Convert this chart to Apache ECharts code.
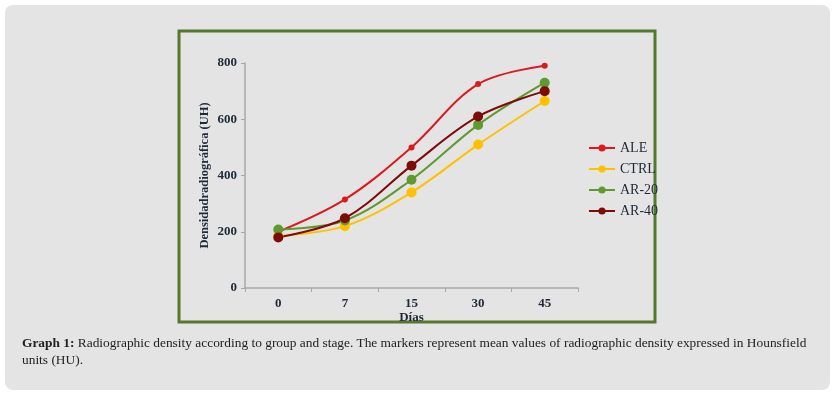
<!DOCTYPE html>
<html>
<head>
<meta charset="utf-8">
<script src="https://cdn.jsdelivr.net/npm/echarts@6/dist/echarts.min.js"></script>
<style>
   html, body { margin: 0 ; padding: 0 ; background: #ffffff ; }
   #card { position: absolute ; left: 5px ; top: 5px ; width: 825px ; height: 385px ; background: #e4e4e4 ; border-radius: 8px ; }
   #chart { position: absolute ; left: 0 ; top: 0 ; width: 835px ; height: 398px ; }
   #caption { position: absolute ; left: 22px ; top: 334px ; width: 800px ; font-family: "Liberation Serif", serif ; font-size: 13.4px ; line-height: 17px ; color: #222 ; }
</style>
</head>
<body>
<div id="card"></div>
<div id="chart"></div>
<div id="caption"><b>Graph 1:</b> Radiographic density according to group and stage. The markers represent mean values of radiographic density expressed in Hounsfield units (HU).</div>
<script>
(function(){
   //datos
   var dias = [ '0', '7', '15', '30', '45' ] ;
   var ale = [ 200, 315, 500, 725, 790 ] ;
   var ctrl = [ 185, 220, 340, 510, 665 ] ;
   var ar20 = [ 208, 240, 385, 580, 730 ] ;
   var ar40 = [ 180, 248, 435, 610, 700 ] ;

   var font = '"Liberation Serif", serif' ;
   var ink = '#1e2a38' ;

   function makeSeries( name, data, color, size )
   {
      return {
         name: name,
         type: 'line',
         smooth: 0.35,
         data: data,
         symbol: 'circle',
         symbolSize: size,
         itemStyle: { color: color },
         lineStyle: { color: color, width: 2 }
      } ;
   }

   var chart = echarts.init( document.getElementById( 'chart' ) ) ;
   chart.setOption( {
      backgroundColor: 'transparent',
      animation: false,
      graphic: [ {
         type: 'rect',
         shape: { x: 179, y: 31, width: 476, height: 291 },
         style: { fill: 'transparent', stroke: '#55792a', lineWidth: 3 }
      } ],
      grid: { left: 245, right: 257, top: 63, bottom: 110 },
      legend: {
         orient: 'vertical',
         left: 583,
         top: 136,
         itemGap: 7,
         itemWidth: 26,
         itemHeight: 9,
         textStyle: { fontFamily: font, fontSize: 14, color: ink },
         data: [ 'ALE', 'CTRL', 'AR-20', 'AR-40' ]
      },
      xAxis: {
         type: 'category',
         data: dias,
         boundaryGap: true,
         name: 'Días',
         nameLocation: 'middle',
         nameGap: 23,
         nameMoveOverlap: false,
         nameTextStyle: { fontFamily: font, fontSize: 13, fontWeight: 'bold', color: ink },
         axisLine: { lineStyle: { color: '#a8a8a8', width: 1.5 } },
         axisTick: { show: true, alignWithLabel: false, length: 4, lineStyle: { color: '#a8a8a8' } },
         axisLabel: { fontFamily: font, fontSize: 13, fontWeight: 'bold', color: ink, margin: 9 }
      },
      yAxis: {
         type: 'value',
         min: 0,
         max: 800,
         interval: 200,
         name: 'Densidadradiográfica (UH)',
         nameLocation: 'middle',
         nameGap: 34,
         nameMoveOverlap: false,
         nameTextStyle: { fontFamily: font, fontSize: 12.5, fontWeight: 'bold', color: ink },
         axisLine: { show: true, lineStyle: { color: '#a8a8a8', width: 1.5 } },
         axisTick: { show: true, length: 4, lineStyle: { color: '#a8a8a8' } },
         splitLine: { show: false },
         axisLabel: { fontFamily: font, fontSize: 13, fontWeight: 'bold', color: ink, margin: 8 }
      },
      series: [
         makeSeries( 'ALE', ale, '#dc1a1e', 6 ),
         makeSeries( 'CTRL', ctrl, '#ffc000', 10 ),
         makeSeries( 'AR-20', ar20, '#5f9a2e', 10 ),
         makeSeries( 'AR-40', ar40, '#7f0a0a', 10 )
      ]
   } ) ;
}());
</script>
</body>
</html>
